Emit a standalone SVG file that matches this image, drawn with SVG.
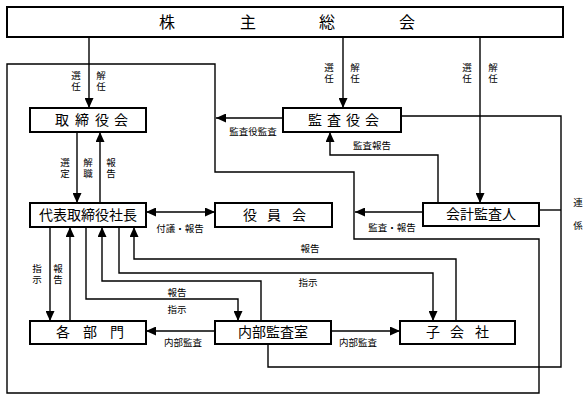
<svg xmlns="http://www.w3.org/2000/svg" width="586" height="400" viewBox="0 0 586 400">
<style>
.box{fill:#fff;stroke:#000;stroke-width:2}
.ln{fill:none;stroke:#000;stroke-width:1.4}
.t{font-family:"Noto Sans CJK JP","Liberation Serif",sans-serif;font-size:14px;fill:#000;text-anchor:middle}
.big{font-size:16px}
.l{font-family:"Noto Sans CJK JP","Liberation Serif",sans-serif;font-size:9.5px;fill:#000;text-anchor:middle}
</style>
<defs>
<marker id="a" markerUnits="userSpaceOnUse" markerWidth="10" markerHeight="9" refX="10" refY="4.5" orient="auto"><path d="M0,0 L10,4.5 L0,9 z" fill="#000"/></marker>
<marker id="as" markerUnits="userSpaceOnUse" markerWidth="10" markerHeight="9" refX="0" refY="4.5" orient="auto"><path d="M10,0 L0,4.5 L10,9 z" fill="#000"/></marker>
</defs>
<rect width="586" height="400" fill="#fff"/>
<g id="connectors">
<path class="ln" d="M7,64 H215 V172 H354 V239 H539 V393 H7 Z"/>
<path class="ln" d="M401,116 H561 V367 H268 V344"/>
<path class="ln" d="M539,210 H561"/>
<path class="ln" d="M89,37 V108" marker-end="url(#a)"/>
<path class="ln" d="M343,37 V108" marker-end="url(#a)"/>
<path class="ln" d="M480,37 V203" marker-end="url(#a)"/>
<path class="ln" d="M283,118 H216" marker-end="url(#a)"/>
<path class="ln" d="M438,203 V155 H330 V132" marker-end="url(#a)"/>
<path class="ln" d="M423,212 H355" marker-end="url(#a)"/>
<path class="ln" d="M77,132 V203" marker-end="url(#a)"/>
<path class="ln" d="M100,203 V132" marker-end="url(#a)"/>
<path class="ln" d="M146,212 H215" marker-start="url(#as)" marker-end="url(#a)"/>
<path class="ln" d="M50,227 V321" marker-end="url(#a)"/>
<path class="ln" d="M70,321 V227" marker-end="url(#a)"/>
<path class="ln" d="M86,227 V299 H238 V321" marker-end="url(#a)"/>
<path class="ln" d="M261,321 V281 H102 V227" marker-end="url(#a)"/>
<path class="ln" d="M119,227 V273 H433 V321" marker-end="url(#a)"/>
<path class="ln" d="M456,321 V259 H134 V227" marker-end="url(#a)"/>
<path class="ln" d="M215,331 H146" marker-end="url(#a)"/>
<path class="ln" d="M331,331 H400" marker-end="url(#a)"/>
</g>
<g id="labels">
<text class="l" x="76 76" y="79 90">選任</text>
<text class="l" x="101 101" y="79 90">解任</text>
<text class="l" x="329 329" y="71 82">選任</text>
<text class="l" x="355 355" y="71 82">解任</text>
<text class="l" x="467 467" y="71 82">選任</text>
<text class="l" x="493 493" y="71 82">解任</text>
<text class="l" x="253" y="135">監査役監査</text>
<text class="l" x="372" y="149">監査報告</text>
<text class="l" x="392" y="231">監査・報告</text>
<text class="l" x="65 65" y="166 177">選定</text>
<text class="l" x="88 88" y="166 177">解職</text>
<text class="l" x="111 111" y="166 177">報告</text>
<text class="l" x="180" y="232">付議・報告</text>
<text class="l" x="310" y="252">報告</text>
<text class="l" x="308" y="286">指示</text>
<text class="l" x="37 37" y="272 283">指示</text>
<text class="l" x="58 58" y="272 283">報告</text>
<text class="l" x="177" y="296">報告</text>
<text class="l" x="177" y="313">指示</text>
<text class="l" x="183" y="346">内部監査</text>
<text class="l" x="358" y="346">内部監査</text>
<text class="l" x="578 578" y="206 229">連係</text>
</g>
<g id="kabunushi"><rect class="box" x="7" y="7" width="556" height="30"/><text class="t big" x="167 248 327 407" y="28">株主総会</text></g>
<g id="torishimariyakukai"><rect class="box" x="30" y="108" width="116" height="24"/><text class="t" x="62 82 102 121" y="125">取締役会</text></g>
<g id="kansayakukai"><rect class="box" x="283" y="108" width="118" height="24"/><text class="t" x="315 334 353 372" y="125">監査役会</text></g>
<g id="kaikeikansanin"><rect class="box" x="423" y="203" width="116" height="23"/><text class="t" x="481" y="219">会計監査人</text></g>
<g id="daihyo"><rect class="box" x="30" y="203" width="116" height="24"/><text class="t" x="88" y="220">代表取締役社長</text></g>
<g id="yakuinkai"><rect class="box" x="215" y="203" width="117" height="24"/><text class="t" x="250 274 299" y="220">役員会</text></g>
<g id="kakubumon"><rect class="box" x="30" y="321" width="116" height="23"/><text class="t" x="63 90 117" y="337">各部門</text></g>
<g id="naibukansashitsu"><rect class="box" x="215" y="321" width="116" height="23"/><text class="t" x="273" y="337">内部監査室</text></g>
<g id="kogaisha"><rect class="box" x="400" y="321" width="115" height="23"/><text class="t" x="433 457 482" y="337">子会社</text></g>
</svg>
